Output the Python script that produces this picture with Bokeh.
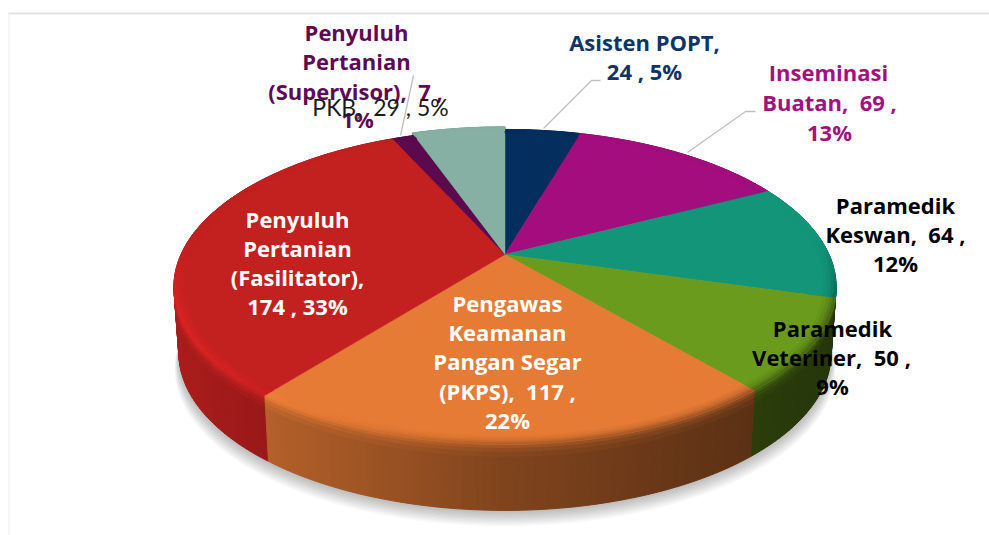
import numpy as np
from bokeh.plotting import figure
from bokeh.models import ColumnDataSource, Range1d
from bokeh.core.properties import value
from bokeh.embed import file_html
from bokeh.resources import INLINE

# ---- chart data
categories = ["Asisten POPT", "Inseminasi Buatan", "Paramedik Keswan", "Paramedik Veteriner",
              "Pengawas Keamanan Pangan Segar (PKPS)", "Penyuluh Pertanian (Fasilitator)",
              "Penyuluh Pertanian (Supervisor)", "PKB"]
values = [24, 69, 64, 50, 117, 174, 7, 29]
colors = ["#032E5E", "#A30D7E", "#13957A", "#6B9B1C", "#E67B35", "#C32020", "#5B0A4E", "#85B0A3"]
radius_scale = [1, 1, 1, 1, 1, 1, 1, 1.025]

# ---- label text (lines, centre x, centre y, colour, font size)
label_lines = [
    ("Penyuluh", 356, 33, "#5E0B55"), ("Pertanian", 356, 62, "#5E0B55"),
    ("(Supervisor),\u00a0 7 ,", 355, 92, "#5E0B55"), ("1%", 357, 120, "#5E0B55"),
    ("Asisten POPT,", 644, 43, "#0F3566"), ("24 , 5%", 644, 72, "#0F3566"),
    ("Inseminasi", 828, 73, "#A3117F"), ("Buatan,\u00a0 69 ,", 829, 103, "#A3117F"), ("13%", 829, 133, "#A3117F"),
    ("Paramedik", 895, 206, "#000000"), ("Keswan,\u00a0 64 ,", 895, 235, "#000000"), ("12%", 895, 264, "#000000"),
    ("Paramedik", 832, 329, "#000000"), ("Veteriner,\u00a0 50 ,", 831, 358, "#000000"), ("9%", 832, 387, "#000000"),
    ("Pengawas", 507, 304, "#FFFFFF"), ("Keamanan", 507, 333, "#FFFFFF"), ("Pangan Segar", 507, 362, "#FFFFFF"),
    ("(PKPS),\u00a0 117 ,", 507, 392, "#FFFFFF"), ("22%", 507, 421, "#FFFFFF"),
    ("Penyuluh", 297, 220, "#FFFFFF"), ("Pertanian", 297, 249, "#FFFFFF"),
    ("(Fasilitator),", 297, 278, "#FFFFFF"), ("174 , 33%", 297, 307, "#FFFFFF"),
]
pkb_label = ("PKB,\u00a0 29 , 5%", 380, 108, "#1A1A1A")
leaders = [([543, 591, 600], [128, 80, 80]), ([687, 745, 755], [152, 111, 111]), ([400, 413], [135, 75])]

# ---- perspective pie geometry
X0, Y0, A, B, T = 504.5, 254.0, 324.0, 150.8, 0.206
DEPTH, BOT = 66.0, 0.985
TEXT_DY = -2.0


def project(ang, r=1.0):
    u, v = r * np.sin(ang), r * np.cos(ang)
    w = 1 + T * v
    return X0 + A * u / w, Y0 - B * v / w


def hexrgb(h):
    return np.array([int(h[i:i + 2], 16) for i in (1, 3, 5)], float)


def tohex(c):
    c = np.clip(c, 0, 255).astype(int)
    return "#%02x%02x%02x" % tuple(c)


def wall_factor(x):
    return float(np.interp(x, [175, 270, 500, 750, 835], [0.88, 0.78, 0.56, 0.40, 0.35]))


W, H = 989, 535
p = figure(width=W, height=H, output_backend="svg", toolbar_location=None,
           x_range=Range1d(0, W), y_range=Range1d(H, 0), min_border=0)
p.axis.visible = False
p.grid.visible = False
p.outline_line_color = None
p.background_fill_color = "#FFFFFF"
p.border_fill_color = "#FFFFFF"

# frame of the chart area
p.line([8, W], [13, 13], line_color="#E2E2E2", line_width=2)
p.line([8.5, 8.5], [13, H], line_color="#EDEDED", line_width=1)

total = sum(values)
edges = np.concatenate([[0], np.cumsum(values)]) / total * 2 * np.pi
full = np.linspace(0, 2 * np.pi, 361)

# soft shadow below the pie
for k in range(12):
    xs, ys = project(full)
    s = BOT * (1.0 + 0.0012 * k)
    p.patch(X0 + (xs - X0) * s, ys + DEPTH + 1 + k * 1.35, fill_color="#000000", fill_alpha=0.022, line_color=None)

# side wall and bevel, painted back to front
q_xs, q_ys, q_col, q_key = [], [], [], []
levels = [(0.965, 0), (0.975, 0), (0.985, 0), (0.993, 0), (1.0, 0), (1.0, 4), (1.0, 8), (1.0, 13), (1.0, 20), (1.0, DEPTH)]
mix_w = [0.06, 0.16, 0.32, 0.5, 0.68, 0.84, 0.94, 1.0, 1.0]
glow = [0.15, 0.4, 0.7, 1.0, 0.85, 0.5, 0.2, 0.0, 0.0]


def rim_point(a, r, d, scale):
    x, y = project(a, r * scale)
    f = d / DEPTH
    return X0 + (x - X0) * (1 - (1 - BOT) * f), y + d


for i, (c0, c1) in enumerate(zip(edges[:-1], edges[1:])):
    top = hexrgb(colors[i])
    n = max(2, int(np.degrees(c1 - c0) / 1.0))
    angs = np.linspace(c0, c1, n + 1)
    for a0, a1 in zip(angs[:-1], angs[1:]):
        xm, ym = project((a0 + a1) / 2)
        vm = np.cos((a0 + a1) / 2)
        front = float(np.clip((0.1 - vm) / 0.45, 0, 1))
        for j in range(len(levels) - 1):
            (r0, d0), (r1, d1) = levels[j], levels[j + 1]
            p00 = rim_point(a0, r0, d0, radius_scale[i])
            p10 = rim_point(a1, r0, d0, radius_scale[i])
            p11 = rim_point(a1, r1, d1, radius_scale[i])
            p01 = rim_point(a0, r1, d1, radius_scale[i])
            wall = top * wall_factor(xm)
            light = float(np.clip((470 - xm) / 260, 0, 1))
            m = mix_w[j] * (front if d1 == 0 else 1.0)
            if d1 == 0 and vm > 0.1:
                m *= 0.0
            col = top * (1 - m) + wall * m + top * 0.18 * glow[j] * light * front
            q_xs.append([p00[0], p10[0], p11[0], p01[0]])
            q_ys.append([p00[1], p10[1], p11[1], p01[1]])
            q_col.append(tohex(col))
            q_key.append((j >= 4, ym))

# wall pieces first, from back to front
wall_order = sorted([k for k in range(len(q_key)) if q_key[k][0]], key=lambda k: q_key[k][1])
src = ColumnDataSource(dict(xs=[q_xs[k] for k in wall_order], ys=[q_ys[k] for k in wall_order],
                            c=[q_col[k] for k in wall_order]))
p.patches("xs", "ys", fill_color="c", line_color="c", line_width=1.0, source=src)

# top surface of the pie
for i, (c0, c1) in enumerate(zip(edges[:-1], edges[1:])):
    angs = np.linspace(c0, c1, max(3, int(np.degrees(c1 - c0))))
    xs, ys = project(angs, radius_scale[i])
    p.patch(np.r_[X0, xs], np.r_[Y0, ys], fill_color=colors[i], line_color=colors[i], line_width=0.5)

bev = [k for k in range(len(q_key)) if not q_key[k][0]]
src2 = ColumnDataSource(dict(xs=[q_xs[k] for k in bev], ys=[q_ys[k] for k in bev], c=[q_col[k] for k in bev]))
p.patches("xs", "ys", fill_color="c", line_color="c", line_width=0.6, source=src2)

# leader lines
for lx, ly in leaders:
    p.line(lx, ly, line_color="#BFBFBF", line_width=1.3)

# labels
ldf = dict(t=[l[0] for l in label_lines], x=[l[1] for l in label_lines],
           y=[l[2] + TEXT_DY for l in label_lines], c=[l[3] for l in label_lines])
p.text("x", "y", text="t", text_color="c", source=ColumnDataSource(ldf), text_align="center",
       text_baseline="middle", text_font=value("Open Sans"), text_font_style="bold", text_font_size="22px")
p.text([pkb_label[1]], [pkb_label[2] + TEXT_DY], text=[pkb_label[0]], text_color=pkb_label[3], text_align="center",
       text_baseline="middle", text_font=value("Lato"), text_font_style="normal", text_font_size="23px")

open("out.html", "w").write(file_html(p, INLINE))
